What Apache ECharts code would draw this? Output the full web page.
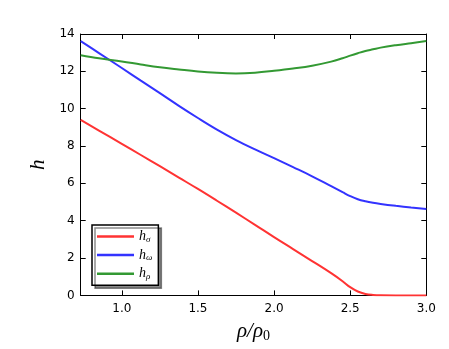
<!DOCTYPE html>
<html>
<head>
<meta charset="utf-8">
<script src="https://cdn.jsdelivr.net/npm/echarts@6/dist/echarts.min.js"></script>
<style>
  html, body { margin: 0; padding: 0; background: #fff; }
  #container { width: 449px; height: 349px; }
</style>
</head>
<body>
<div id="container"></div>
<script>
var rho = [0.73, 0.85, 1.0, 1.125, 1.25, 1.375, 1.5, 1.625, 1.75, 1.875, 2.0, 2.125, 2.25, 2.375, 2.45, 2.5, 2.55, 2.6, 2.65, 2.7, 2.8, 2.9, 3.0];
var hSigma = [9.40, 8.83, 8.12, 7.52, 6.92, 6.31, 5.70, 5.07, 4.43, 3.78, 3.12, 2.48, 1.84, 1.19, 0.76, 0.44, 0.21, 0.08, 0.025, 0.005, 0, 0, 0];
var hOmega = [13.62, 12.98, 12.18, 11.50, 10.83, 10.15, 9.50, 8.88, 8.32, 7.82, 7.35, 6.87, 6.38, 5.85, 5.53, 5.32, 5.15, 5.04, 4.96, 4.90, 4.80, 4.71, 4.63];
var hRho = [12.86, 12.70, 12.53, 12.37, 12.22, 12.10, 11.99, 11.92, 11.89, 11.93, 12.03, 12.15, 12.30, 12.52, 12.70, 12.84, 12.97, 13.09, 13.18, 13.27, 13.40, 13.51, 13.62];
var xTicks = [1.0, 1.5, 2.0, 2.5, 3.0];
var names = ['h_sigma', 'h_omega', 'h_rho'];
var subs = { h_sigma: 'σ', h_omega: 'ω', h_rho: 'ρ' };

function pairs(ys) {
    return rho.map(function (x, i) { return [x, ys[i]]; });
}

var dom = document.getElementById("container");
var myChart = echarts.init(dom);

var tickFont = { color: '#000', fontFamily: 'DejaVu Sans', fontSize: 12 };
var mathFont = 'Liberation Serif';

option = {
    backgroundColor: '#fff',
    animation: false,
    grid: { left: 80.7, right: 22.7, top: 34, bottom: 53.6 },
    legend: {
        data: names,
        orient: 'vertical',
        left: 92,
        top: 225,
        icon: 'rect',
        itemWidth: 37,
        itemHeight: 2.5,
        itemGap: 3.6,
        padding: [4, 6, 4, 5],
        backgroundColor: '#fff',
        borderColor: '#000',
        borderWidth: 1.5,
        borderRadius: 0,
        shadowColor: 'rgba(0,0,0,0.45)',
        shadowOffsetX: 3,
        shadowOffsetY: 3,
        shadowBlur: 0,
        formatter: function (n) { return '{h|h}{s|' + subs[n] + '}'; },
        textStyle: {
            rich: {
                h: { fontFamily: mathFont, fontStyle: 'italic', fontSize: 14, color: '#000', lineHeight: 14 },
                s: { fontFamily: mathFont, fontStyle: 'italic', fontSize: 9, color: '#000', lineHeight: 14, padding: [6, 0, 0, 0] }
            }
        }
    },
    xAxis: [{
        type: 'value',
        min: 0.73,
        max: 3.0,
        name: '{i|ρ/ρ}{s|0}',
        nameLocation: 'middle',
        nameGap: 24,
        nameTextStyle: {
            rich: {
                i: { fontFamily: mathFont, fontStyle: 'italic', fontSize: 21, color: '#000' },
                s: { fontFamily: mathFont, fontSize: 14, color: '#000', padding: [10, 0, 0, 0] }
            }
        },
        axisLine: { onZero: false, lineStyle: { color: '#000', width: 1 } },
        axisTick: { inside: true, length: 5, customValues: xTicks, lineStyle: { color: '#000' } },
        axisLabel: Object.assign({ customValues: xTicks, margin: 7, formatter: function (v) { return v.toFixed(1); } }, tickFont),
        splitLine: { show: false }
    }, {
        type: 'value',
        position: 'top',
        min: 0.73,
        max: 3.0,
        axisLine: { onZero: false, lineStyle: { color: '#000', width: 1 } },
        axisTick: { inside: true, length: 5, customValues: xTicks, lineStyle: { color: '#000' } },
        axisLabel: { show: false },
        splitLine: { show: false }
    }],
    yAxis: [{
        type: 'value',
        min: 0,
        max: 14,
        interval: 2,
        name: 'h',
        nameLocation: 'middle',
        nameRotate: 90,
        nameGap: 28,
        nameTextStyle: { fontFamily: mathFont, fontStyle: 'italic', fontSize: 21, color: '#000' },
        axisLine: { show: true, onZero: false, lineStyle: { color: '#000', width: 1 } },
        axisTick: { show: true, inside: true, length: 5, lineStyle: { color: '#000' } },
        axisLabel: Object.assign({ margin: 6 }, tickFont),
        splitLine: { show: false }
    }, {
        type: 'value',
        position: 'right',
        min: 0,
        max: 14,
        interval: 2,
        axisLine: { show: true, onZero: false, lineStyle: { color: '#000', width: 1 } },
        axisTick: { show: true, inside: true, length: 5, lineStyle: { color: '#000' } },
        axisLabel: { show: false },
        splitLine: { show: false }
    }],
    series: [{
        name: 'h_sigma',
        type: 'line',
        data: pairs(hSigma),
        smooth: 0.4,
        symbol: 'none',
        color: '#ff3333',
        lineStyle: { color: '#ff3333', width: 2 }
    }, {
        name: 'h_omega',
        type: 'line',
        data: pairs(hOmega),
        smooth: 0.4,
        symbol: 'none',
        color: '#3333ff',
        lineStyle: { color: '#3333ff', width: 2 }
    }, {
        name: 'h_rho',
        type: 'line',
        data: pairs(hRho),
        smooth: 0.4,
        symbol: 'none',
        color: '#339933',
        lineStyle: { color: '#339933', width: 2 }
    }]
};

if (option && typeof option === "object") {
    myChart.setOption(option, true);
}
</script>
</body>
</html>
